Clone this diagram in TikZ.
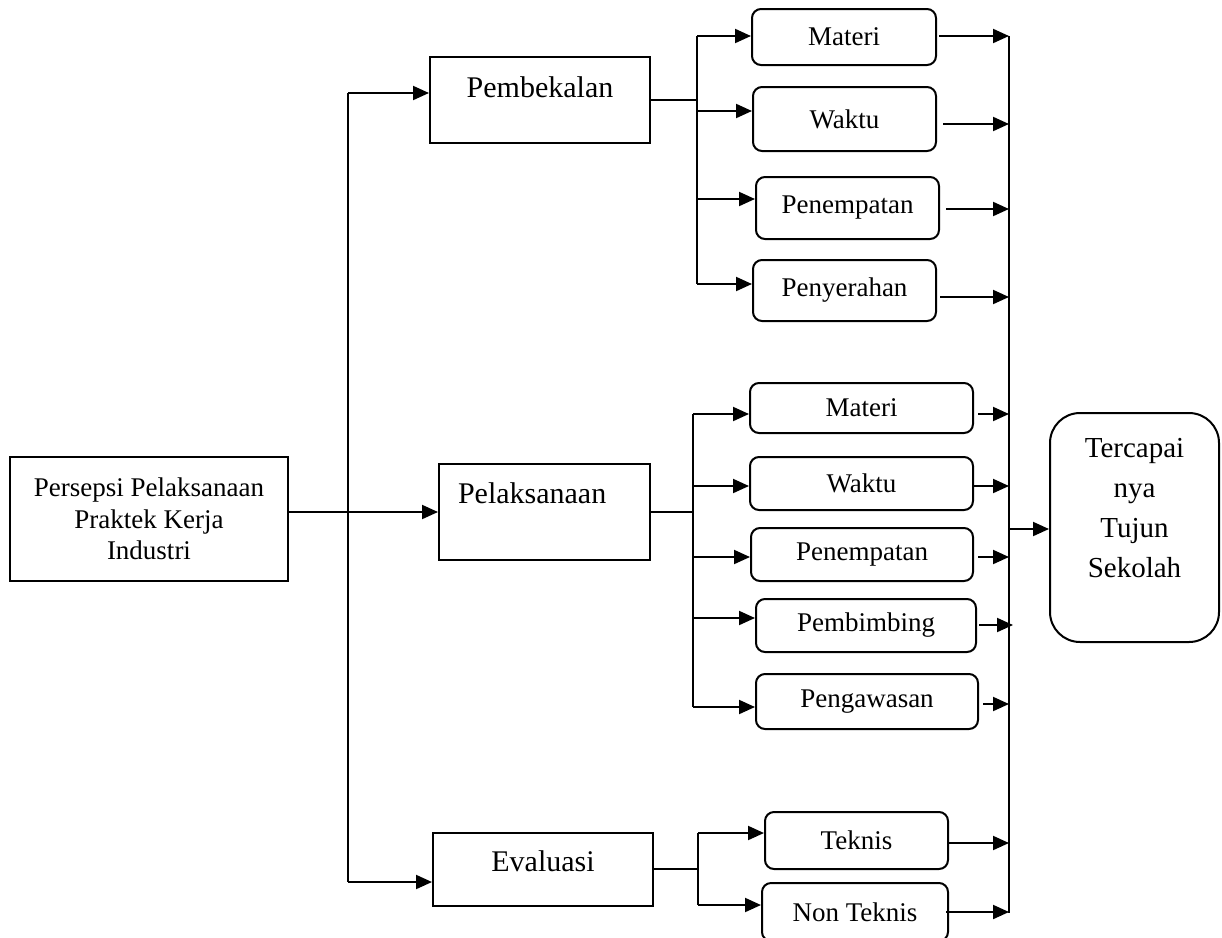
\documentclass[tikz,border=0pt]{standalone}
\usepackage{fontspec}
\setmainfont{Liberation Serif}
\usetikzlibrary{arrows.meta}

\begin{document}
\begin{tikzpicture}[x=1pt,y=-1pt]
	\tikzstyle{mainbox}=[draw, line width=2pt, inner sep=0pt, font=\fontsize{30}{34}\selectfont]
	\tikzstyle{subbox}=[draw, rounded corners=9pt, line width=2pt, inner sep=0pt, font=\fontsize{27}{31}\selectfont]
	\tikzstyle{line}=[line width=2pt]
	\tikzstyle{arr}=[line width=2pt, -{Triangle[length=16pt,width=14pt]}]
	
	\useasboundingbox (0,0) rectangle (1222,937);
	
	\node at (149,519) [mainbox, minimum width=278pt, minimum height=124pt, align=center, font=\fontsize{27}{31.5}\selectfont] (persepsi) {Persepsi Pelaksanaan\\Praktek Kerja\\Industri};
	
	\node at (540,100) [mainbox, minimum width=220pt, minimum height=86pt, text height=22pt, text depth=28pt] (pembekalan) {Pembekalan};
	\node at (544.5,512) [mainbox, minimum height=96pt, text width=173pt, inner xsep=19pt, align=left, text height=22pt, text depth=40pt] (pelaksanaan) {Pelaksanaan};
	\node at (543,869) [mainbox, minimum width=220pt, minimum height=73pt, text height=22pt, text depth=17pt] (evaluasi) {Evaluasi};
	
	\node at (1134.5,527.5) [subbox, rounded corners=30pt, minimum width=169pt, minimum height=229pt, align=center, font=\fontsize{29}{40}\selectfont, text depth=40pt] (tujuan) {Tercapai\\nya\\Tujun\\Sekolah};
	
	% pembekalan
	\node at (844,37) [subbox, minimum width=184pt, minimum height=56pt] (materi1) {Materi};
	\node at (844.5,119) [subbox, minimum width=183pt, minimum height=64pt] (waktu1) {Waktu};
	\node at (847.5,208) [subbox, minimum width=183pt, minimum height=62pt] (tempat1) {Penempatan};
	\node at (844.5,290.5) [subbox, minimum width=183pt, minimum height=61pt] (serah1) {Penyerahan};
	
	% pelaksanaan
	\node at (861.5,408) [subbox, minimum width=223pt, minimum height=50pt] (materi2) {Materi};
	\node at (861.5,483.5) [subbox, minimum width=223pt, minimum height=53pt] (waktu2) {Waktu};
	\node at (862,554.5) [subbox, minimum width=222pt, minimum height=53pt] (tempat2) {Penempatan};
	\node at (866,625.5) [subbox, minimum width=220pt, minimum height=53pt] (bimbing2) {Pembimbing};
	\node at (867,701.5) [subbox, minimum width=222pt, minimum height=55pt] (awas2) {Pengawasan};
	
	% evaluasi
	\node at (856.5,840.5) [subbox, minimum width=183pt, minimum height=57pt] (teknis3) {Teknis};
	\node at (855,912) [subbox, minimum width=186pt, minimum height=58pt] (nonteknis3) {Non Teknis};
	
	\coordinate (spinetop) at (348,93);
	\coordinate (spinebot) at (348,882);
	\draw [line] (spinetop) -- (spinebot);
	\draw [arr] (spinetop) -- (pembekalan.west |- spinetop);
	\draw [arr] (persepsi.east |- pelaksanaan.west) -- (pelaksanaan.west);
	\draw [arr] (spinebot) -- (evaluasi.west |- spinebot);
	
	\coordinate (b1) at (697,36);
	\coordinate (b2) at (697,111);
	\coordinate (b3) at (697,199);
	\coordinate (b4) at (697,284);
	\draw [line] (pembekalan.east) -- (pembekalan.east -| b1);
	\draw [line] (b1) -- (b4);
	\draw [arr] (b1) -- (materi1.west |- b1);
	\draw [arr] (b2) -- (waktu1.west |- b2);
	\draw [arr] (b3) -- (tempat1.west |- b3);
	\draw [arr] (b4) -- (serah1.west |- b4);
	
	\coordinate (c1) at (693,414);
	\coordinate (c2) at (693,486);
	\coordinate (c3) at (693,557);
	\coordinate (c4) at (693,618);
	\coordinate (c5) at (693,707);
	\draw [line] (pelaksanaan.east) -- (pelaksanaan.east -| c1);
	\draw [line] (c1) -- (c5);
	\draw [arr] (c1) -- (materi2.west |- c1);
	\draw [arr] (c2) -- (waktu2.west |- c2);
	\draw [arr] (c3) -- (tempat2.west |- c3);
	\draw [arr] (c4) -- (bimbing2.west |- c4);
	\draw [arr] (c5) -- (awas2.west |- c5);
	
	\coordinate (d1) at (698,833);
	\coordinate (d2) at (698,905);
	\draw [line] (evaluasi.east) -- (evaluasi.east -| d1);
	\draw [line] (d1) -- (d2);
	\draw [arr] (d1) -- (teknis3.west |- d1);
	\draw [arr] (d2) -- (nonteknis3.west |- d2);
	
	% ke tujuan
	\coordinate (r1) at (1009,36);
	\coordinate (r2) at (1009,124);
	\coordinate (r3) at (1009,209);
	\coordinate (r4) at (1009,297);
	\coordinate (r5) at (1009,414);
	\coordinate (r6) at (1009,486);
	\coordinate (r7) at (1009,557);
	\coordinate (r8) at (1009,625);
	\coordinate (r9) at (1009,704);
	\coordinate (r10) at (1009,843);
	\coordinate (r11) at (1009,912);
	\coordinate (rt) at (1009,529);
	\draw [line] (r1) -- ([yshift=-1pt]r11);
	\draw [arr] ([xshift=2pt]materi1.east |- r1) -- (r1);
	\draw [arr] ([xshift=6pt]waktu1.east |- r2) -- (r2);
	\draw [arr] ([xshift=6pt]tempat1.east |- r3) -- (r3);
	\draw [arr] ([xshift=3pt]serah1.east |- r4) -- (r4);
	\draw [arr] ([xshift=4pt]materi2.east |- r5) -- (r5);
	\draw [arr] (waktu2.east |- r6) -- (r6);
	\draw [arr] ([xshift=4pt]tempat2.east |- r7) -- (r7);
	\draw [arr] ([xshift=2pt]bimbing2.east |- r8) -- ([xshift=4pt]r8);
	\draw [arr] ([xshift=4pt]awas2.east |- r9) -- (r9);
	\draw [arr] (teknis3.east |- r10) -- (r10);
	\draw [arr] ([xshift=-3pt]nonteknis3.east |- r11) -- (r11);
	\draw [arr] (rt) -- (tujuan.west |- rt);
\end{tikzpicture}
\end{document}
